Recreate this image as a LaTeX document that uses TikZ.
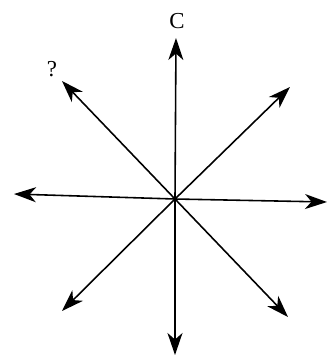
\documentclass[tikz,border=0pt]{standalone}
\usepackage{fontspec}
\setmainfont{Liberation Serif}
\usetikzlibrary{arrows.meta}
\begin{document}
\begin{tikzpicture} [x = 0.02cm, y = -0.02cm,
    spoke/.style = {-{Stealth[length = 0.44cm, width = 0.3cm, inset = 0.13cm]}, line width = 0.9pt},
    lbl/.style = {font = \fontsize{13}{15}\selectfont, inner sep = 0pt}]
                \useasboundingbox (0,0) rectangle (328,356);
                \coordinate (o) at (175,199);
                \foreach \name/\x/\y in {n/176/38, ne/290/87, e/327/202, se/288/317, s/175/355, sw/62/311, w/14/194, nw/62/81}
                  \coordinate (\name) at (\x,\y);
                \foreach \name in {n, ne, e, se, s, sw, w, nw}
                  \draw [spoke] (o) -- (\name);
                \node [lbl] (lc) at (177,21) {C};
                \node [lbl] (lq) at (52,69) {?};
            \end{tikzpicture}
\end{document}
